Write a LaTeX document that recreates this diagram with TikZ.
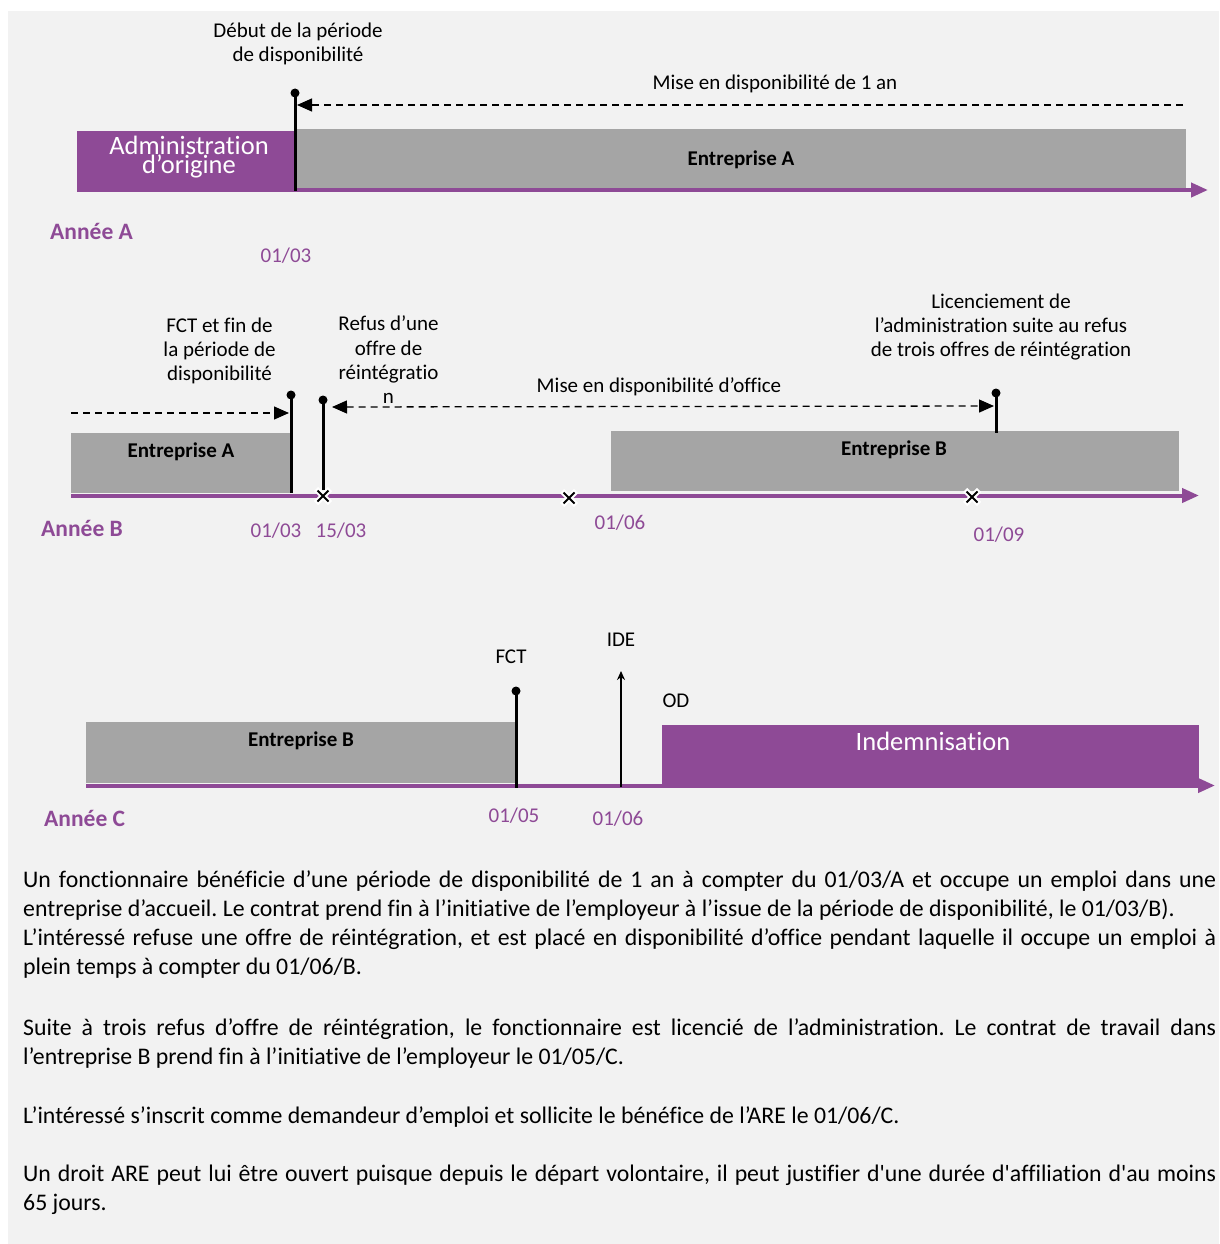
\documentclass[tikz,border=0pt]{standalone}
\usepackage{fontspec}
\setmainfont{Carlito}[Ligatures={TeXOff,NoCommon}]
\usetikzlibrary{arrows.meta}
\definecolor{pur}{HTML}{8E4A96}
\definecolor{gbox}{HTML}{A5A5A5}
\definecolor{bgc}{HTML}{F2F2F2}
\frenchspacing
\begin{document}
\begin{tikzpicture}[x=1pt,y=-1pt,
  lbl/.style={font=\fontsize{21}{24.3}\selectfont, align=center, inner sep=0pt, text=black},
  boxlbl/.style={font=\fontsize{21}{24}\selectfont\bfseries, inner sep=0pt},
  yearlbl/.style={font=\fontsize{23.5}{28}\selectfont\bfseries, text=pur, anchor=west, inner sep=0pt},
  datelbl/.style={font=\fontsize{21}{24}\selectfont, text=pur, inner sep=0pt},
  wlbl/.style={font=\fontsize{26.5}{19.5}\selectfont, text=white, align=center, inner sep=0pt},
  axisline/.style={draw=pur, line width=4pt, -{Triangle[length=17pt,width=14pt,fill=pur]}},
  tickline/.style={line width=3pt, black},
  dotc/.style={circle, fill=black, inner sep=0pt, minimum size=9pt},
  darr/.style={dash pattern=on 7pt off 5pt, line width=1.3pt, -{Triangle[length=15pt,width=13pt]}},
  bodyline/.style={font=\fontsize{23.8}{29}\selectfont, anchor=base west, inner sep=0pt},
  xm/.pic={\draw[white,line width=6pt] (-7,-7)--(7,7) (-7,7)--(7,-7);
           \draw[black,line width=1.8pt] (-5.5,-5.5)--(5.5,5.5) (-5.5,5.5)--(5.5,-5.5);}
]
\useasboundingbox (0,0) rectangle (1219,1244);
\fill[white] (0,0) rectangle (1219,1244);
\fill[bgc] (8,11) rectangle (1219,1244);

% ================= Year A =================
\node[lbl] (debut) at (298,44) {Début de la période\\de disponibilité};
\node[lbl] (mise1) at (775,84) {Mise en disponibilité de 1 an};
\fill[pur] (77,131) rectangle (295,191);
\node[wlbl] (admin) at (189,157) {Administration\\d’origine};
\fill[gbox] (297,129) rectangle (1186,189);
\node[boxlbl] (entA1) at (741,160) {Entreprise A};
\coordinate (axA0) at (77,190);
\coordinate (axA1) at (1208,190);
\draw[axisline] (axA0) -- (axA1);
\coordinate (tA0) at (295,93);
\coordinate (tA1) at (295,191);
\draw[tickline] (tA0) -- (tA1);
\node[dotc] (dA) at (tA0) {};
\coordinate (dsA0) at (1183,105);
\coordinate (dsA1) at (297,105);
\draw[darr] (dsA0) -- (dsA1);
\node[yearlbl] (anA) at (50,231) {Année A};
\node[datelbl] (dA03) at (286,256) {01/03};

% ================= Year B =================
\node[lbl] (fct1) at (219.5,351) {FCT et fin de\\la période de\\disponibilité};
\node[lbl] (refus) at (388.5,360) {Refus d’une\\offre de\\réintégratio\\n};
\node[lbl] (licen) at (1001,327) {Licenciement de\\l’administration suite au refus\\de trois offres de réintégration};
\node[lbl] (mise2) at (659,387) {Mise en disponibilité d’office};
\fill[gbox] (71,433) rectangle (292,493);
\node[boxlbl] (entA2) at (181,452) {Entreprise A};
\fill[gbox] (611,431) rectangle (1179,491);
\node[boxlbl] (entB1) at (894,450) {Entreprise B};
\coordinate (axB0) at (71,495.5);
\coordinate (axB1) at (1199,495.5);
\draw[axisline] (axB0) -- (axB1);
% FCT end
\coordinate (tB0) at (291,395);
\coordinate (tB1) at (291,493);
\draw[tickline] (tB0) -- (tB1);
\node[dotc] (dB1) at (tB0) {};
% refus
\coordinate (tR0) at (323,400);
\coordinate (tR1) at (323,490);
\draw[tickline] (tR0) -- (tR1);
\node[dotc] (dB2) at (tR0) {};
% licenciement
\coordinate (tL0) at (996,393);
\coordinate (tL1) at (996,433);
\draw[tickline] (tL0) -- (tL1);
\node[dotc] (dB3) at (tL0) {};
% dashed arrows
\coordinate (dsB0) at (71,413);
\coordinate (dsB1) at (289,413);
\draw[darr] (dsB0) -- (dsB1);
\coordinate (dsC0) at (332,407);
\coordinate (dsC1) at (994,406);
\draw[darr,{Triangle[length=15pt,width=13pt]}-{Triangle[length=15pt,width=13pt]}] (dsC0) -- (dsC1);
% crosses
\pic (x1) at (323,496) {xm};
\pic (x2) at (569,498) {xm};
\pic (x3) at (972,497) {xm};
\node[yearlbl] (anB) at (41,528) {Année B};
\node[datelbl] (dB03) at (276,531) {01/03};
\node[datelbl] (dB15) at (341,531) {15/03};
\node[datelbl] (dB06) at (620,523) {01/06};
\node[datelbl] (dB09) at (999,535) {01/09};

% ================= Year C =================
\fill[gbox] (86,722) rectangle (516,783);
\node[boxlbl] (entB2) at (301,741) {Entreprise B};
\coordinate (axC0) at (86,785.5);
\coordinate (axC1) at (1215,785.5);
\draw[axisline] (axC0) -- (axC1);
\fill[pur] (662,725) rectangle (1199,787);
\node[wlbl] (indem) at (933,741) {Indemnisation};
\coordinate (tC0) at (516,691);
\coordinate (tC1) at (516,788);
\draw[tickline] (tC0) -- (tC1);
\node[dotc] (dC1) at (tC0) {};
\coordinate (ide0) at (621,787);
\coordinate (ide1) at (621,671);
\draw[line width=2.5pt,-{Stealth[length=9pt,width=8pt]}] (ide0) -- (ide1);
\node[lbl] (fctC) at (511,657) {FCT};
\node[lbl] (ideC) at (621,640) {IDE};
\node[lbl] (odC) at (676,701) {OD};
\node[yearlbl] (anC) at (44,818) {Année C};
\node[datelbl] (dC05) at (514,816) {01/05};
\node[datelbl] (dC06) at (618,819) {01/06};

% ================= Text =================
\node[bodyline] (p1a) at (23,887) {\makebox[1193pt][s]{Un fonctionnaire bénéficie d’une période de disponibilité de 1 an à compter du 01/03/A et occupe un emploi dans une}};
\node[bodyline] (p1b) at (23,916) {entreprise d’accueil. Le contrat prend fin à l’initiative de l’employeur à l’issue de la période de disponibilité, le 01/03/B).};
\node[bodyline] (p1c) at (23,945) {\makebox[1193pt][s]{L’intéressé refuse une offre de réintégration, et est placé en disponibilité d’office pendant laquelle il occupe un emploi à}};
\node[bodyline] (p1d) at (23,974) {plein temps à compter du 01/06/B.};
\node[bodyline] (p2a) at (23,1035) {\makebox[1193pt][s]{Suite à trois refus d’offre de réintégration, le fonctionnaire est licencié de l’administration. Le contrat de travail dans}};
\node[bodyline] (p2b) at (23,1064) {l’entreprise B prend fin à l’initiative de l’employeur le 01/05/C.};
\node[bodyline] (p3a) at (23,1123) {L’intéressé s’inscrit comme demandeur d’emploi et sollicite le bénéfice de l’ARE le 01/06/C.};
\node[bodyline] (p4a) at (23,1181) {\makebox[1193pt][s]{Un droit ARE peut lui être ouvert puisque depuis le départ volontaire, il peut justifier d'une durée d'affiliation d'au moins}};
\node[bodyline] (p4b) at (23,1210) {65 jours.};
\end{tikzpicture}
\end{document}
